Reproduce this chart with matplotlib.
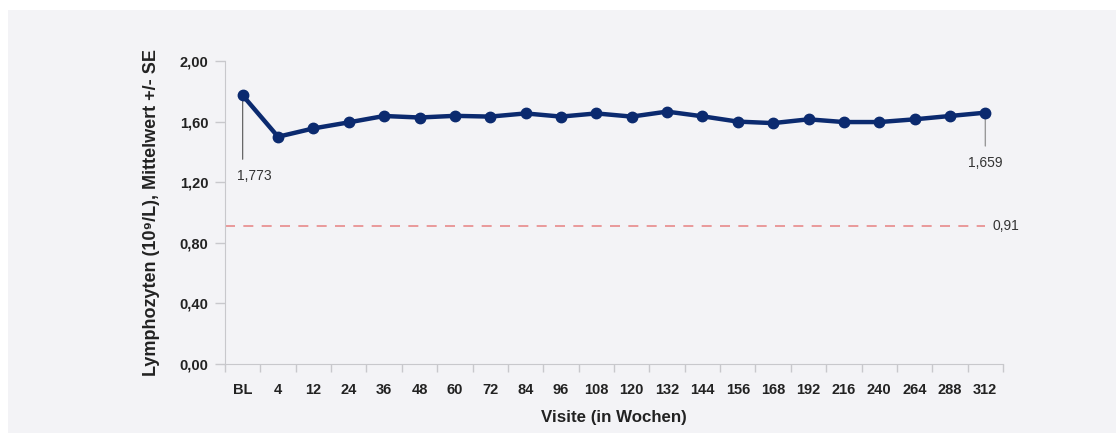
import matplotlib.pyplot as plt
import numpy as np

plt.rcParams['font.family'] = ['Liberation Sans', 'DejaVu Sans']

visits = ['BL', '4', '12', '24', '36', '48', '60', '72', '84', '96', '108',
          '120', '132', '144', '156', '168', '192', '216', '240', '264', '288', '312']
means = [1.773, 1.50, 1.555, 1.595, 1.637, 1.627, 1.638, 1.633, 1.654, 1.633, 1.654,
         1.633, 1.666, 1.635, 1.600, 1.590, 1.615, 1.597, 1.597, 1.615, 1.637, 1.659]
ref_value = 0.91
yticks = [0.0, 0.4, 0.8, 1.2, 1.6, 2.0]

bg = '#f3f3f6'
navy = '#0b2a6f'
grey = '#c8c8cc'
txt = '#333333'


def de(v, n):
    return f'{v:.{n}f}'.replace('.', ',')


fig = plt.figure(figsize=(11.16, 4.33), dpi=100, facecolor='white')
# grey panel behind everything
fig.patches.append(plt.Rectangle((8 / 1116, 0), 1 - 8 / 1116, 1 - 10 / 433,
                                 transform=fig.transFigure, facecolor=bg,
                                 edgecolor='none', zorder=-10))
ax = fig.add_axes([225 / 1116, 69 / 433, 778 / 1116, 303 / 433])
ax.set_facecolor(bg)

x = np.arange(len(visits))
ax.plot(x, means, color=navy, lw=3.2, marker='o', ms=7.5, zorder=3)

# reference line
ax.plot([-0.5, x[-1]], [ref_value, ref_value], color='#e88a8a', lw=1.2,
        dashes=(6, 5), zorder=2)
ax.annotate(de(ref_value, 2), xy=(x[-1], ref_value),
            xytext=(5, 0), textcoords='offset points', va='center', ha='left',
            fontsize=10, color=txt)

# first value: vertical leader line + label
ax.annotate('', xy=(x[0], means[0]), xytext=(0, -46), textcoords='offset points',
            arrowprops=dict(arrowstyle='-', color='#555555', lw=0.8,
                            shrinkA=0, shrinkB=0), zorder=2)
ax.annotate(de(means[0], 3), xy=(x[0], means[0]), xytext=(-4, -58),
            textcoords='offset points', ha='left', va='center',
            fontsize=10, color=txt)

# last value: vertical leader line + label
ax.annotate('', xy=(x[-1], means[-1]), xytext=(0, -24), textcoords='offset points',
            arrowprops=dict(arrowstyle='-', color='#999999', lw=1,
                            shrinkA=0, shrinkB=0), zorder=2)
ax.annotate(de(means[-1], 3), xy=(x[-1], means[-1]), xytext=(0, -36),
            textcoords='offset points', ha='center', va='center',
            fontsize=10, color=txt)

ax.set_xlim(-0.5, len(visits) - 0.5)
ax.set_ylim(0, 2.0)
ax.set_yticks(yticks)
ax.set_yticklabels([de(v, 2) for v in yticks],
                   fontsize=10.5, fontweight='bold', color='#222222')
ax.set_xticks(x)
ax.set_xticklabels(visits, fontsize=10.5, fontweight='bold', color='#222222')
ax.set_xticks(np.arange(-0.5, len(visits)), minor=True)
ax.tick_params(axis='x', which='major', length=0, pad=14)
ax.tick_params(axis='x', which='minor', length=6, color=grey, width=1)
ax.tick_params(axis='y', length=7, color=grey, width=1, pad=5)

for s in ['top', 'right']:
    ax.spines[s].set_visible(False)
ax.spines['left'].set_color(grey)
ax.spines['bottom'].set_color(grey)

ax.set_xlabel('Visite (in Wochen)', fontsize=12.2, fontweight='bold',
              color='#222222', labelpad=9)
ax.set_ylabel('Lymphozyten (10⁹/L), Mittelwert +/- SE', fontsize=13,
              fontweight='bold', color='#222222', labelpad=14)

fig.savefig('out.png', dpi=100, facecolor='white')
